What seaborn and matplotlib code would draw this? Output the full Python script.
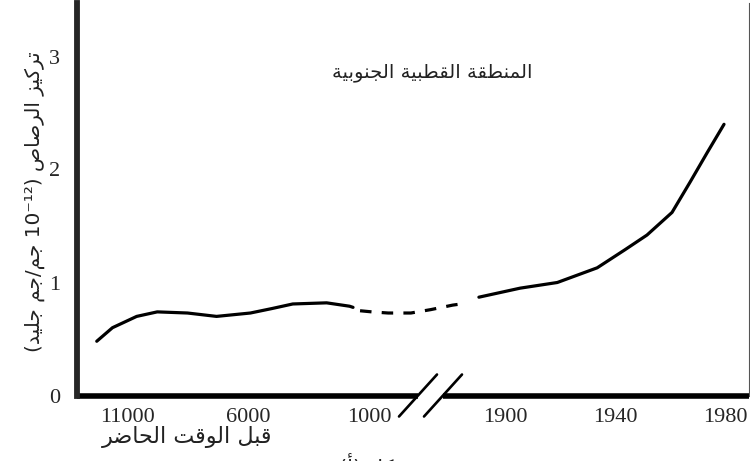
import re
import numpy as np
import seaborn as sns
import matplotlib
matplotlib.use("Agg")
import matplotlib.pyplot as plt

# ice-core lead, Antarctica (values in 1e-12 g/g)
ancient_bp = [12250, 11600, 10600, 9750, 8500, 7300, 5900, 5000, 4150, 2750, 1800, 1660]
ancient_val = [0.48, 0.60, 0.70, 0.74, 0.73, 0.70, 0.73, 0.77, 0.81, 0.82, 0.79, 0.78]
gap_year = [580, 1000, 1280, 1670, 1873, 1881, 1884]
gap_val = [0.75, 0.74, 0.73, 0.73, 0.76, 0.80, 0.81]
modern_year = [1890.5, 1905.5, 1919, 1933.5, 1943.6, 1951.6, 1960.7, 1967.3, 1973.5, 1979.6]
modern_val = [0.87, 0.95, 1.00, 1.13, 1.29, 1.42, 1.62, 1.89, 2.15, 2.40]

tick_years = [-9050, -4050, 950, 1900, 1940, 1980]
tick_labels = ["11000", "6000", "1000", "1900", "1940", "1980"]
y_ticks = [0, 1, 2, 3]

title_txt = "المنطقة القطبية الجنوبية"
xlabel_txt = "قبل الوقت الحاضر"
ylabel_txt = "تركيز الرصاص (10⁻¹² جم/جم جليد)"
caption_txt = "شكل (أ)"

# --- minimal arabic shaping (matplotlib has no bidi / joining) ---
FORMS = {
    "ا": ("\uFE8D", "\uFE8E", None, None), "أ": ("\uFE83", "\uFE84", None, None),
    "ب": ("\uFE8F", "\uFE90", "\uFE91", "\uFE92"), "ة": ("\uFE93", "\uFE94", None, None),
    "ت": ("\uFE95", "\uFE96", "\uFE97", "\uFE98"), "ج": ("\uFE9D", "\uFE9E", "\uFE9F", "\uFEA0"),
    "ح": ("\uFEA1", "\uFEA2", "\uFEA3", "\uFEA4"), "د": ("\uFEA9", "\uFEAA", None, None),
    "ر": ("\uFEAD", "\uFEAE", None, None), "ز": ("\uFEAF", "\uFEB0", None, None),
    "ش": ("\uFEB5", "\uFEB6", "\uFEB7", "\uFEB8"), "ص": ("\uFEB9", "\uFEBA", "\uFEBB", "\uFEBC"),
    "ض": ("\uFEBD", "\uFEBE", "\uFEBF", "\uFEC0"), "ط": ("\uFEC1", "\uFEC2", "\uFEC3", "\uFEC4"),
    "ق": ("\uFED5", "\uFED6", "\uFED7", "\uFED8"), "ك": ("\uFED9", "\uFEDA", "\uFEDB", "\uFEDC"),
    "ل": ("\uFEDD", "\uFEDE", "\uFEDF", "\uFEE0"), "م": ("\uFEE1", "\uFEE2", "\uFEE3", "\uFEE4"),
    "ن": ("\uFEE5", "\uFEE6", "\uFEE7", "\uFEE8"), "و": ("\uFEED", "\uFEEE", None, None),
    "ي": ("\uFEF1", "\uFEF2", "\uFEF3", "\uFEF4"),
}


def ar(text):
    out = []
    for i, c in enumerate(text):
        if c not in FORMS:
            out.append(c)
            continue
        prev = text[i - 1] if i > 0 else ""
        nxt = text[i + 1] if i + 1 < len(text) else ""
        jp = prev in FORMS and FORMS[prev][2] is not None
        jn = nxt in FORMS and FORMS[c][2] is not None
        iso, fin, ini, med = FORMS[c]
        out.append(med if jp and jn else fin if jp else ini if jn else iso)
    vis = "".join(out)[::-1]
    vis = re.sub(r"[0-9⁰¹²³⁴⁵⁶⁷⁸⁹⁻]+", lambda m: m.group(0)[::-1], vis)
    return vis.translate(str.maketrans("()", ")("))


# broken axis: piecewise linear time scale
knot_year = np.array([-60000, -11116, 950, 1870, 1988.5, 6000])
knot_pos = np.array([77 - 48884 * 0.0242, 77, 369, 422.5, 748.5, 748.5 + 4011.5 * 2.75])


def fwd(x):
    return np.interp(x, knot_year, knot_pos)


def inv(p):
    return np.interp(p, knot_pos, knot_year)


sns.set_style("white")
plt.rcParams["font.family"] = ["Liberation Serif", "DejaVu Sans"]

fig = plt.figure(figsize=(7.5, 4.61), dpi=100)
ax = fig.add_axes([77 / 750, 65.5 / 461, 671.5 / 750, 392.5 / 461])
ax.set_xscale("function", functions=(fwd, inv))

ancient_year = [1950 - b for b in ancient_bp]
kw = dict(color="black", lw=2.3, ax=ax, sort=False)
sns.lineplot(x=ancient_year, y=ancient_val, **kw)
sns.lineplot(x=gap_year, y=gap_val, linestyle=(0, (3.6, 3.2)), **kw)
sns.lineplot(x=modern_year, y=modern_val, **kw)

ax.set_xlim(-11116, 1988.5)
ax.set_ylim(0, 392.5 / 113)
ax.set_xticks(tick_years)
ax.set_xticklabels(tick_labels)
ax.set_yticks(y_ticks)
ax.tick_params(axis="x", length=0, pad=9, labelsize=16)
ax.tick_params(axis="y", direction="in", length=5, width=2.4, pad=12, labelsize=16)

ax.spines["top"].set_visible(False)
ax.spines["bottom"].set_visible(False)
ax.spines["left"].set_linewidth(4.2)
ax.spines["right"].set_linewidth(0.8)
ax.spines["right"].set_color("#555555")

# bottom axis with a gap and break marks
g1, g2 = (418 - 77) / 671.5, (443 - 77) / 671.5
for a, b in [(0, g1), (g2, 1)]:
    ax.plot([a, b], [0, 0], transform=ax.transAxes, color="black", lw=4.0,
            solid_capstyle="butt", clip_on=False)
dx, dy = 19 / 671.5, 21 / 392.5
for c in (g1, g2):
    ax.plot([c - dx, c + dx], [-dy, dy], transform=ax.transAxes, color="black",
            lw=1.9, clip_on=False)

ax.text(0.529, 0.824, ar(title_txt), transform=ax.transAxes, ha="center", va="center",
        fontsize=14, family="DejaVu Sans", color="#222222")
fig.text(0.249, 0.052, ar(xlabel_txt), ha="center", va="center", fontsize=16,
         family="DejaVu Sans", color="#222222")
fig.text(0.0467, 0.562, ar(ylabel_txt), ha="center", va="center", rotation=90,
         fontsize=14.4, family="DejaVu Sans", color="#222222")
fig.text(0.501, 0.015, ar(caption_txt), ha="center", va="top", fontsize=15,
         family="DejaVu Sans", color="#222222")

fig.savefig("out.png", dpi=100)
